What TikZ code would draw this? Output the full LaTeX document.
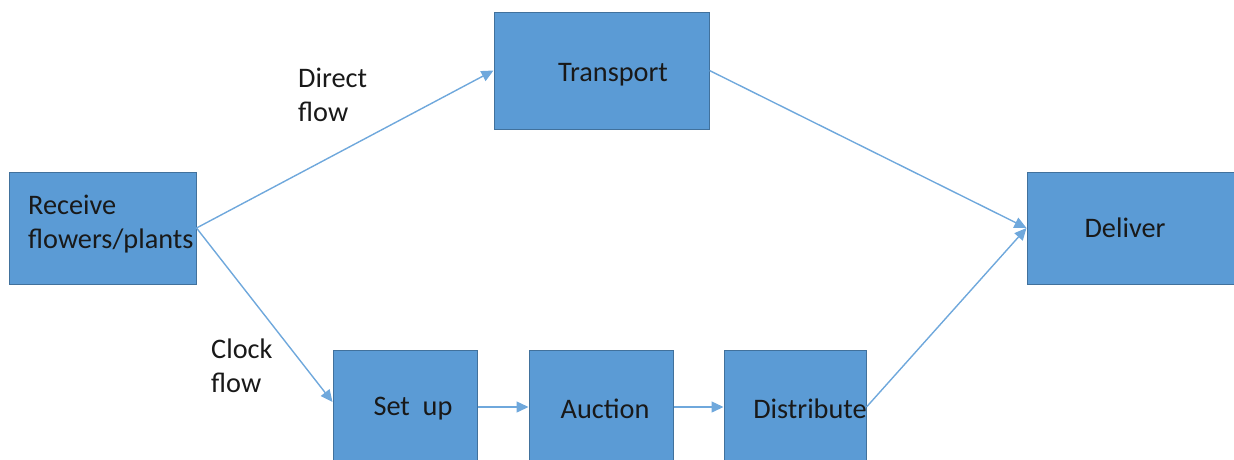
\documentclass[tikz,border=0pt]{standalone}
\usepackage{fontspec}
\setmainfont{Carlito}
\usetikzlibrary{arrows.meta}
\definecolor{boxfill}{HTML}{5B9BD5}
\definecolor{boxline}{HTML}{41719C}
\definecolor{flowline}{HTML}{6FA8DC}
\begin{document}
\begin{tikzpicture}[x=1pt, y=-1pt,
        box/.style={rectangle, draw=boxline, line width=1pt, fill=boxfill, inner sep=0pt},
        txt/.style={font=\fontsize{28.3}{34}\selectfont, text=black!90, inner sep=0pt, align=left},
        flow/.style={draw=flowline, line width=1.4pt, -{Triangle[length=12pt,width=11pt]}}]
        \useasboundingbox (0,0) rectangle (1234,459);
        \clip (0,0) rectangle (1234,459);
        % boxes
        \node[box, minimum width=187pt, minimum height=112pt] (receive) at (102.5,228) {};
        \node[box, minimum width=215pt, minimum height=117pt] (transport) at (601.5,70.5) {};
        \node[box, minimum width=233pt, minimum height=112pt] (deliver) at (1143.5,228) {};
        \node[box, minimum width=144pt, minimum height=160pt] (setup) at (405,430) {};
        \node[box, minimum width=144pt, minimum height=160pt] (auction) at (601,430) {};
        \node[box, minimum width=142pt, minimum height=160pt] (distribute) at (795,430) {};
        % texts
        \node[txt, anchor=west] (receivetext) at (28,224) {Receive\\flowers/plants};
        \node[txt] (transporttext) at (613,75) {Transport};
        \node[txt] (delivertext) at (1125,228) {Deliver};
        \node[txt] (setuptext) at (413,409) {Set\ \ up};
        \node[txt] (auctiontext) at (605,409) {Auction};
        \node[txt] (distributetext) at (810,409) {Distribute};
        \node[txt, anchor=west] (directlbl) at (298,95) {Direct\\flow};
        \node[txt, anchor=west] (clocklbl) at (211,366) {Clock\\flow};
        % flows
        \draw[flow] (receive.east) -- (transport.west);
        \draw[flow] (receive.east) -- ([yshift=28pt]setup.west);
        \draw[flow] ([yshift=23pt]setup.east) -- ([yshift=23pt]auction.west);
        \draw[flow] ([yshift=23pt]auction.east) -- ([yshift=23pt]distribute.west);
        \draw[flow] (transport.east) -- (deliver.west);
        \draw[flow] ([yshift=23pt]distribute.east) -- (deliver.west);
    \end{tikzpicture}
\end{document}
